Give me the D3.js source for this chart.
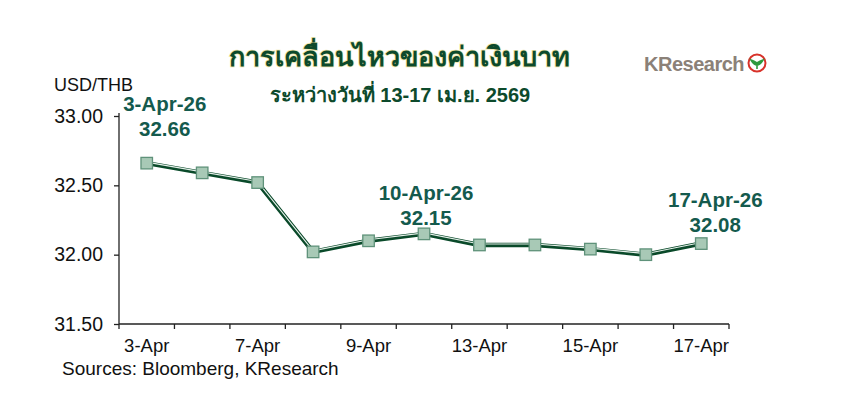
<!DOCTYPE html>
<html>
<head>
<meta charset="utf-8">
<script src="https://cdn.jsdelivr.net/npm/d3@7"></script>
<style>
  body { margin: 0; background: #fff; }
  svg { display: block; font-family: Arial, "Liberation Sans", sans-serif; }
</style>
</head>
<body>
<div class="js-chart"></div>
<script>
// data
const dates = ['3-Apr', '6-Apr', '7-Apr', '8-Apr', '9-Apr', '10-Apr', '13-Apr', '14-Apr', '15-Apr', '16-Apr', '17-Apr'];
const rates = [32.66, 32.59, 32.52, 32.02, 32.10, 32.15, 32.07, 32.07, 32.04, 32.00, 32.08];
const yTicks = [31.5, 32.0, 32.5, 33.0];
const callouts = [
  { idx: 0, label: '3-Apr-26', dx: 18, dy: -27 },
  { idx: 5, label: '10-Apr-26', dx: 2, dy: -9 },
  { idx: 10, label: '17-Apr-26', dx: 14, dy: -12 }
];

const width = 861, height = 396;
const margin = { top: 116, right: 132, bottom: 72, left: 119 };

const svg = d3.select('.js-chart').append('svg')
  .attr('width', width).attr('height', height);

const x = d3.scaleBand()
  .domain(dates)
  .range([margin.left, width - margin.right]);

const y = d3.scaleLinear()
  .domain([31.5, 33.0])
  .range([height - margin.bottom, margin.top]);

// title
const darkGreen = '#0d4a2c';
svg.append('text')
  .attr('x', 399).attr('y', 66)
  .attr('text-anchor', 'middle')
  .attr('font-size', 27).attr('font-weight', 'bold')
  .attr('fill', darkGreen)
  .attr('stroke', '#efe7a8').attr('stroke-width', 1.5)
  .style('paint-order', 'stroke')
  .text('การเคลื่อนไหวของค่าเงินบาท');

svg.append('text')
  .attr('x', 400).attr('y', 102)
  .attr('text-anchor', 'middle')
  .attr('font-size', 20).attr('font-weight', 'bold')
  .attr('fill', darkGreen)
  .text('ระหว่างวันที่ 13-17 เม.ย. 2569');

// logo
const logo = svg.append('g').attr('transform', 'translate(644,71)');
logo.append('text')
  .attr('font-size', 20).attr('font-weight', 'bold')
  .attr('fill', '#8b8178')
  .attr('letter-spacing', -0.5)
  .text('KResearch');
logo.append('circle')
  .attr('cx', 113).attr('cy', -8).attr('r', 8.5)
  .attr('fill', '#fff').attr('stroke', '#d8322a').attr('stroke-width', 2);
logo.append('path')
  .attr('d', 'M107,-11 Q110,-6 113,-6 Q116,-6 119,-11 Q116,-10 113,-8 Q110,-10 107,-11 Z M113,-7 L113,-2')
  .attr('fill', '#2e9a3e').attr('stroke', '#2e9a3e').attr('stroke-width', 1.6);

// axis title
svg.append('text')
  .attr('x', 54).attr('y', 91)
  .attr('font-size', 18).attr('fill', '#111')
  .text('USD/THB');

// y axis
const yAxis = svg.append('g')
  .attr('transform', `translate(${margin.left},0)`)
  .call(d3.axisLeft(y).tickValues(yTicks).tickFormat(d3.format('.2f')).tickSize(5).tickPadding(11));
yAxis.select('.domain').attr('stroke', '#222').attr('stroke-width', 1.3).attr('d', `M0,${y(31.5)}V${y(33.0) - 3}`);
yAxis.selectAll('.tick line').attr('stroke', '#222').attr('stroke-width', 1.3);
yAxis.selectAll('.tick text').attr('font-size', 19.5).attr('fill', '#111').attr('font-family', 'Arial, "Liberation Sans", sans-serif');

// x axis: ticks at band boundaries, labels on every other band
const xAxisG = svg.append('g')
  .attr('transform', `translate(0,${y(31.5)})`);
xAxisG.append('line')
  .attr('x1', margin.left).attr('x2', width - margin.right)
  .attr('stroke', '#222').attr('stroke-width', 1.3);
const bounds = dates.map(d => x(d)).concat([x(dates[dates.length - 1]) + x.bandwidth()]);
xAxisG.selectAll('.xt').data(bounds).enter().append('line')
  .attr('x1', d => d).attr('x2', d => d)
  .attr('y1', 0).attr('y2', 5)
  .attr('stroke', '#222').attr('stroke-width', 1.3);
xAxisG.selectAll('.xl').data(dates.filter((d, i) => i % 2 === 0)).enter().append('text')
  .attr('x', d => x(d) + x.bandwidth() / 2)
  .attr('y', 28)
  .attr('text-anchor', 'middle')
  .attr('font-size', 18.5).attr('fill', '#111')
  .text(d => d);

// source
svg.append('text')
  .attr('x', 62).attr('y', 375)
  .attr('font-size', 19).attr('fill', '#111')
  .text('Sources: Bloomberg, KResearch');

// line with a light highlight on top
const cx = (d, i) => x(dates[i]) + x.bandwidth() / 2;
const line = d3.line().x(cx).y(d => y(d));

svg.append('path')
  .datum(rates)
  .attr('d', line)
  .attr('fill', 'none')
  .attr('stroke', '#0a4a2a').attr('stroke-width', 4.5)
  .attr('stroke-linejoin', 'round');
svg.append('path')
  .datum(rates)
  .attr('d', line)
  .attr('transform', 'translate(0,-1)')
  .attr('fill', 'none')
  .attr('stroke', '#e6f0ea').attr('stroke-width', 1.1)
  .attr('stroke-linejoin', 'round');

// markers
const sz = 11.5;
svg.selectAll('.marker').data(rates).enter().append('rect')
  .attr('x', (d, i) => cx(d, i) - sz / 2)
  .attr('y', d => y(d) - sz / 2)
  .attr('width', sz).attr('height', sz)
  .attr('fill', '#a8c9b6')
  .attr('stroke', '#5f927a').attr('stroke-width', 1.3);

// callouts
const labelColor = '#145a4d';
callouts.forEach(c => {
  const px = cx(rates[c.idx], c.idx) + c.dx;
  const py = y(rates[c.idx]) + c.dy;
  svg.append('text')
    .attr('x', px).attr('y', py - 25)
    .attr('text-anchor', 'middle')
    .attr('font-size', 20.5).attr('font-weight', 'bold')
    .attr('fill', labelColor)
    .text(c.label);
  svg.append('text')
    .attr('x', px).attr('y', py)
    .attr('text-anchor', 'middle')
    .attr('font-size', 20.5).attr('font-weight', 'bold')
    .attr('fill', labelColor)
    .text(d3.format('.2f')(rates[c.idx]));
});
</script>
</body>
</html>
